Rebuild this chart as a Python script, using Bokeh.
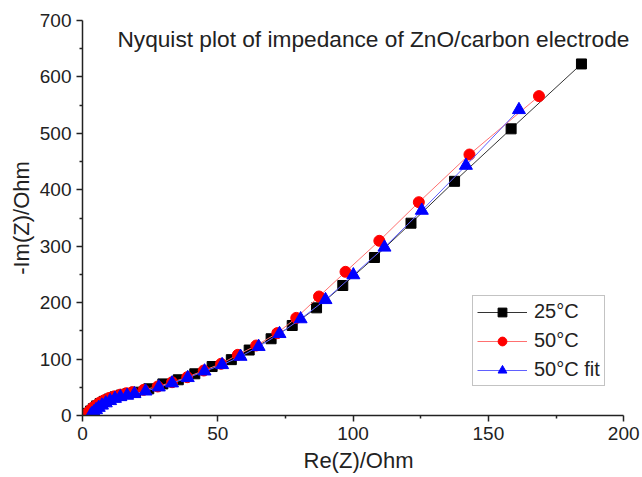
from bokeh.plotting import figure
from bokeh.models import Range1d, Legend, LegendItem, Label, FixedTicker
from bokeh.embed import file_html
from bokeh.resources import INLINE

# 25 C measured
x25 = [1.5, 2.2, 3.0, 4.0, 5.2, 6.5, 8.0, 9.8, 12.0, 14.3, 16.8, 19.6, 24.5, 29.7, 35.4, 41.5, 47.9, 55.0, 61.6, 69.7, 77.5, 86.5, 96.2, 107.9, 121.4, 137.5, 158.4, 184.4]
y25 = [1, 4, 8, 12, 17, 21, 25, 29, 33, 36, 39, 41.3, 47.3, 56, 63.3, 73.9, 86.8, 99, 116, 136, 159.5, 190.8, 230.4, 280, 340.8, 415, 508, 623]
# 50 C measured
x50 = [1.3, 2.0, 2.8, 3.8, 5.0, 6.4, 8.0, 9.8, 11.8, 14.0, 16.2, 18.4, 22.6, 27.8, 33.1, 38.7, 44.8, 51.2, 57.4, 64.2, 72.0, 79.0, 87.4, 97.2, 109.7, 124.3, 143.0, 168.7]
y50 = [1, 5, 9, 14, 18, 23, 27, 31, 34, 37, 39.5, 41.3, 45.5, 51.4, 59, 67.9, 79.7, 91.6, 107.5, 124, 146, 173, 210.9, 254.6, 309.6, 378, 462.5, 566]
# 50 C fit
xfit = [3.0, 3.5, 4.2, 5.0, 6.0, 7.2, 8.6, 10.2, 12.0, 14.0, 16.5, 19.2, 23.3, 28.2, 33.1, 38.9, 45.1, 51.6, 58.4, 65.1, 72.8, 80.6, 89.8, 100.1, 111.6, 125.4, 141.7, 161.3]
yfit = [0.5, 3, 6, 10, 14, 18, 22, 26, 30, 33, 35.5, 38.4, 43, 50.2, 57.3, 66.8, 78.5, 89.8, 104.5, 122, 144.8, 171, 205, 249, 298, 363.3, 443, 541.7]

labels = ["25\u00b0C", "50\u00b0C", "50\u00b0C fit"]
title_text = "Nyquist plot of impedance of ZnO/carbon electrode"
x_ticks = [0, 50, 100, 150, 200]
y_ticks = [0, 100, 200, 300, 400, 500, 600, 700]

FONT = "Liberation Sans"

# frame extends a little past x=200 (axis bounded at 200) so the inset title is not clipped
p = figure(width=642, height=477, output_backend="svg", toolbar_location=None,
           x_range=Range1d(0, 204), y_range=Range1d(0, 700),
           min_border_left=82, min_border_right=8, min_border_top=20, min_border_bottom=62)
p.outline_line_color = None
p.xgrid.visible = False
p.ygrid.visible = False
p.xaxis.bounds = (0, 200)

for ax in (p.xaxis[0], p.yaxis[0]):
    ax.axis_line_width = 1.5
    ax.axis_line_color = "#222222"
    ax.major_tick_line_color = "#222222"
    ax.minor_tick_line_color = "#222222"
    ax.major_tick_line_width = 1.5
    ax.minor_tick_line_width = 1.5
    ax.major_tick_out = 6
    ax.major_tick_in = 0
    ax.minor_tick_out = 3
    ax.minor_tick_in = 0
    ax.major_label_text_font = FONT
    ax.major_label_text_font_size = "19px"
    ax.major_label_text_color = "#222222"
    ax.axis_label_text_font = FONT
    ax.axis_label_text_font_size = "22px"
    ax.axis_label_text_font_style = "normal"
    ax.axis_label_text_color = "#222222"

p.xaxis.ticker = FixedTicker(ticks=x_ticks, minor_ticks=[25, 75, 125, 175])
p.yaxis.ticker = FixedTicker(ticks=y_ticks, minor_ticks=[50, 150, 250, 350, 450, 550, 650])
p.xaxis.axis_label = "Re(Z)/Ohm"
p.yaxis.axis_label = "-Im(Z)/Ohm"
p.xaxis.major_label_standoff = 5
p.yaxis.major_label_standoff = 5
p.xaxis.axis_label_standoff = 5
p.yaxis.axis_label_standoff = 3

l1 = p.line(x25, y25, line_color="#333333", line_width=1)
m1 = p.scatter(x25, y25, marker="square", size=10, fill_color="black", line_color="black")
l2 = p.line(x50, y50, line_color="#ff7070", line_width=1)
m2 = p.scatter(x50, y50, marker="circle", size=11, fill_color="red", line_color="red")
l3 = p.line(xfit, yfit, line_color="#6060ff", line_width=1)
m3 = p.scatter(xfit, yfit, marker="triangle", size=13, fill_color="blue", line_color="blue")

legend = Legend(items=[LegendItem(label=labels[0], renderers=[l1, m1]),
                       LegendItem(label=labels[1], renderers=[l2, m2]),
                       LegendItem(label=labels[2], renderers=[l3, m3])],
                location=(390, 29), glyph_width=50, glyph_height=22, label_height=22,
                label_text_font=FONT, label_text_font_size="20px",
                label_text_color="#222222", spacing=6, padding=4, margin=0,
                border_line_color="#888888", border_line_width=1,
                label_standoff=7, background_fill_alpha=1)
p.add_layout(legend, "center")

p.add_layout(Label(x=12.9, y=668, text=title_text, text_font=FONT,
                   text_font_size="22.7px", text_baseline="middle", text_color="#222222"))

open("out.html", "w").write(file_html(p, INLINE))
